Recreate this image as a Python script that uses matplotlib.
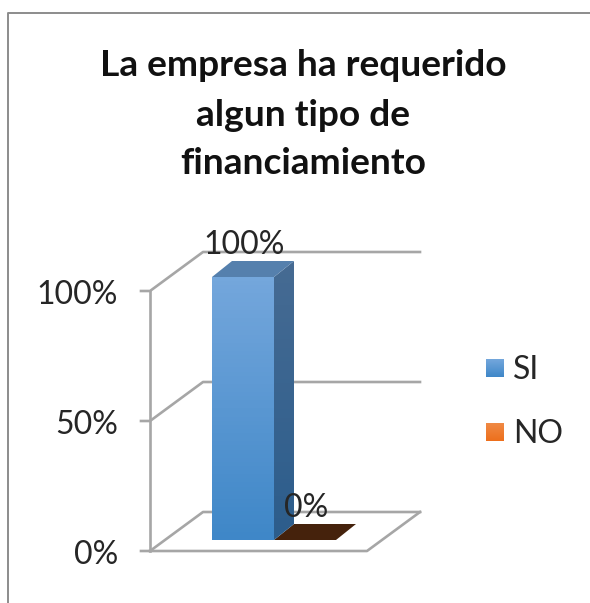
"""
Recreated 3D-look column chart: La empresa ha requerido algun tipo de financiamiento
"""
import matplotlib
matplotlib.use('Agg')
import matplotlib.pyplot as plt
from matplotlib.colors import LinearSegmentedColormap
from matplotlib.patches import Polygon
import numpy as np

# ── Data ───────────────────────────────────────────────────────────────────────
CATEGORIES = ['SI', 'NO']
VALUES     = [100, 0]
TICKS      = [0, 50, 100]
TITLE      = 'La empresa ha requerido\nalgun tipo de\nfinanciamiento'

# ── Pixel geometry of the fake 3D box ──────────────────────────────────────────
W, H      = 590, 603
X0, X1    = 150, 367      # front floor edge
Y0, Y100  = 551, 291      # front axis, 0% and 100%
DX, DY    = 53, 39        # wall depth
BAR_X     = 212
BAR_W     = 62
BAR_Y0    = 540
BAR_H     = 263           # pixels for 100%
BAR_DX, BAR_DY = 20, 16
GRID      = '#a6a6a6'
TEXT      = '#262626'
LABEL_SIZE = 23

plt.rcParams['font.family'] = ['Lato', 'DejaVu Sans']

fig = plt.figure(figsize=(W / 100, H / 100), dpi=100)
ax = fig.add_axes([0, 0, 1, 1])
ax.set_xlim(0, W)
ax.set_ylim(H, 0)
ax.axis('off')


def val_y(v):
    return Y0 + (Y100 - Y0) * v / 100


def grad_face(pts, top, bottom, z):
    # vertical gradient clipped to a polygon
    cmap = LinearSegmentedColormap.from_list('g', [top, bottom])
    ys = [p[1] for p in pts]
    xs = [p[0] for p in pts]
    im = ax.imshow(np.linspace(0, 1, 64).reshape(-1, 1), cmap=cmap, aspect='auto',
                   extent=[min(xs), max(xs), max(ys), min(ys)], zorder=z)
    clip = Polygon(pts, closed=True, transform=ax.transData, fc='none', ec='none')
    ax.add_patch(clip)
    im.set_clip_path(clip)


# outer chart border (only top and left show)
ax.plot([590, 8, 8], [13, 13, 603], color='#8c8c8c', lw=1.4, zorder=1)

# gridlines: front tick, wall diagonal, back wall
for v in TICKS:
    y = val_y(v)
    ax.plot([141, X0, X0 + DX, X1 + DX], [y, y, y - DY, y - DY], color=GRID, lw=1.9, zorder=2)
ax.plot([X0, X0], [val_y(0), val_y(100)], color=GRID, lw=1.9, zorder=2)
# floor outline
ax.plot([X0, X1, X1 + DX], [Y0, Y0, Y0 - DY], color=GRID, lw=1.9, zorder=2)

# bars
bar_styles = [
    dict(front=('#74a7dc', '#3f87c8'), side=('#466b93', '#2c5d8c'), top='#5580ad'),
    dict(front=('#ed7d31', '#ed7d31'), side=('#8a4a1c', '#8a4a1c'), top='#45220c'),
]
for i, (val, st) in enumerate(zip(VALUES, bar_styles)):
    x0 = BAR_X + i * BAR_W
    x1 = x0 + BAR_W
    y_top = BAR_Y0 - BAR_H * val / 100
    if val > 0:
        grad_face([(x0, BAR_Y0), (x1, BAR_Y0), (x1, y_top), (x0, y_top)], *st['front'], 4)
        grad_face([(x1, BAR_Y0), (x1 + BAR_DX, BAR_Y0 - BAR_DY),
                   (x1 + BAR_DX, y_top - BAR_DY), (x1, y_top)], *st['side'], 4)
    ax.add_patch(Polygon([(x0, y_top), (x1, y_top), (x1 + BAR_DX, y_top - BAR_DY),
                          (x0 + BAR_DX, y_top - BAR_DY)],
                         closed=True, fc=st['top'], ec='none', zorder=3 if val == 0 else 4))
    # value label
    ax.text(x0 + 32, y_top - 32, f'{val}%', ha='center', va='center',
            fontsize=LABEL_SIZE, color=TEXT, zorder=6)

# axis labels
for v in TICKS:
    ax.text(118, val_y(v) + 4, f'{v}%', ha='right', va='center', fontsize=LABEL_SIZE, color=TEXT)

# legend
legend_colors = [('#74a7dc', '#3f87c8'), ('#f08a45', '#ed6f1c')]
for name, cols, y in zip(CATEGORIES, legend_colors, [368, 432]):
    grad_face([(486, y - 9), (504, y - 9), (504, y + 9), (486, y + 9)], cols[0], cols[1], 4)
    ax.text(513, y + 2, name, ha='left', va='center', fontsize=LABEL_SIZE, color=TEXT)

ax.set_xlim(0, W)
ax.set_ylim(H, 0)

# title
for line, y in zip(TITLE.split('\n'), [65, 115, 164]):
    ax.text(303, y, line, ha='center', va='center', fontsize=26.7, fontweight='bold', color='#111111')

fig.savefig('out.png', dpi=100)
